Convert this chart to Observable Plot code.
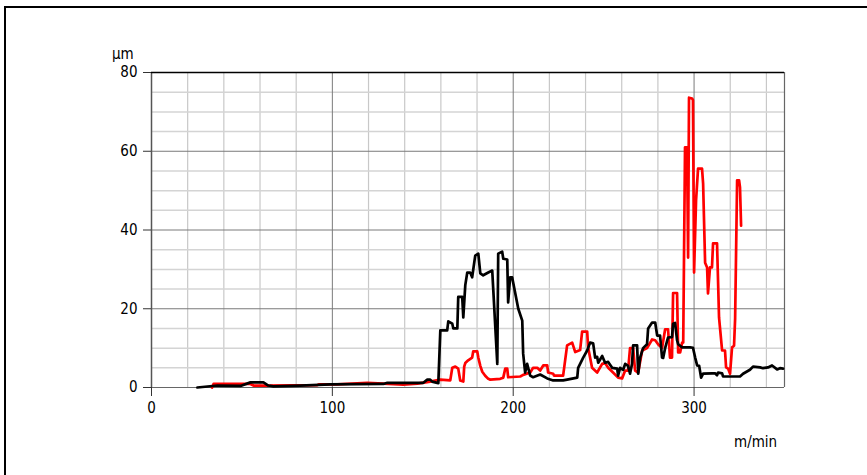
<!DOCTYPE html>
<html><head><meta charset="utf-8">
<script src="https://cdn.jsdelivr.net/npm/d3@7"></script>
<script src="https://cdn.jsdelivr.net/npm/@observablehq/plot@0.6"></script>
<style>
body{margin:0;background:#fff;}
#wrap{position:relative;width:867px;height:475px;overflow:hidden;background:#fff;}
#frame{position:absolute;left:4px;top:6px;width:900px;height:500px;border-top:2px solid #000;border-left:2px solid #000;}
#chart{position:absolute;left:0;top:0;}
.lbl{position:absolute;font-family:"Liberation Sans Narrow","Arial Narrow","DejaVu Sans Condensed",sans-serif;font-size:15px;color:#000;line-height:1;}
</style></head><body>
<div id="wrap"><div id="frame"></div><div id="chart"></div>
<div class="lbl" style="left:112px;top:47px">µm</div>
<div class="lbl" style="left:734px;top:435px">m/min</div></div>
<script>
const xTicks = [0, 100, 200, 300];
const yTicks = [0, 20, 40, 60, 80];
const xMinor = [20,40,60,80,120,140,160,180,220,240,260,280,320,340];
const xMajor = [100,200,300];
const yMinor = [5,10,15,25,30,35,45,50,55,65,70,75];
const yMajor = [20,40,60];

const redSeries = [[33.5,0],[34.3,0.9],[54.7,0.9],[56.4,0.5],[64.1,0.5],[91.7,0.6],[92.5,0.8],[102.8,0.8],[119.3,1.2],[128.2,1.0],[139.2,0.7],[147,1.0],[154.1,1.5],[159.7,2.0],[165.2,1.8],[166.3,5],[168,5.3],[169.6,4.8],[170.7,1.8],[172.4,1.5],[172.9,5.3],[173.5,6.2],[175.1,6.9],[177.3,7.6],[177.9,9.2],[180.1,9.2],[180.7,7.6],[181.8,5.5],[182.9,4.0],[184.5,3],[186.2,2.2],[187.3,2.0],[192.8,2.2],[194.5,2.5],[195.6,4.8],[196.7,4.8],[197.2,2.6],[203.9,2.8],[205.5,3.2],[209.4,3.8],[211,5],[213.3,5],[214.9,4.3],[216.6,5.6],[218.8,5.6],[219.3,3.8],[222.1,3.5],[222.6,3.0],[227.6,3.0],[229.8,10.7],[232.6,11.4],[234.3,9],[237,9.5],[238.1,14.2],[240.9,14.2],[241.4,10.2],[243.6,5],[246.4,3.8],[249.2,6],[250.8,6.2],[252.5,5],[255.2,3.8],[258,2.5],[260.2,2.3],[261.9,4.3],[263.5,4.3],[264.6,10],[266.3,10],[267.4,4.3],[269.1,3.8],[271.3,9.4],[274,10],[276.8,12.2],[278.5,12],[280.1,11],[282.3,10],[284,14.8],[285.6,14.8],[286.7,7.6],[287.8,7.6],[288.4,24],[290.6,24],[291.2,8.9],[292.3,8.9],[293.4,11.4],[294,11.4],[295,61],[296.1,61],[296.7,33],[297.2,73.6],[298.9,73.4],[299.4,73],[300,29.2],[301.1,47.5],[302.2,55.6],[304.4,55.6],[305,51.8],[306.1,31.7],[307.2,30.5],[307.7,23.9],[308.8,30.5],[309.9,30.5],[310.5,36.6],[312.7,36.6],[313.8,17.8],[315.5,9.4],[317.1,9.4],[317.7,5.1],[318.8,4.8],[319.9,3.5],[321,10.2],[322.1,10.6],[322.7,17.5],[323.8,52.6],[324.9,52.6],[325.4,50.8],[326,41.1]];

const blackSeries = [[25.4,0],[36.5,0.5],[49.2,0.4],[54.7,1.3],[61.9,1.3],[64.6,0.5],[67.4,0.3],[82.3,0.5],[98.9,0.8],[128.2,0.9],[130.4,1.2],[150.3,1.2],[152.5,2.0],[154.1,2.0],[155.2,1.5],[158.6,1.1],[159.7,14.5],[163.5,14.5],[164.1,16.8],[166.3,16.2],[166.9,15],[169.1,15],[169.6,23],[171.8,23],[172.4,17.8],[173.5,26],[174.6,29.2],[176.2,29.2],[177.3,28],[179,33.5],[180.7,34],[181.8,29],[183.4,28.5],[186.2,29.2],[188.4,29.7],[189,24.6],[191.2,6],[191.7,34],[193.9,34.5],[194.5,32.7],[196.7,32.5],[197.2,21.6],[198.3,28],[199.4,28],[202.8,20],[205,17],[205.5,8.6],[206.6,3.8],[207.7,6],[209.4,3],[211,2.6],[214.9,3.3],[218.8,2.3],[222.1,1.8],[227.6,1.8],[229.8,2.0],[235.4,2.5],[235.9,5],[238.7,7.6],[240.9,9.4],[242.5,11.4],[244.2,11.2],[245.3,7.6],[246.4,7.8],[247,6.3],[249.2,8],[250.8,6.3],[252.5,6.5],[254.7,5],[257.5,4.8],[258,3],[259.1,5],[260.8,4.5],[261.9,6],[263.5,5.5],[264.6,3.5],[265.7,6],[266.3,10.7],[268.5,10.7],[269.1,3.5],[270.2,7.6],[271.8,10],[274,11],[274.6,15],[276.8,16.5],[278.5,16.5],[279.6,13.2],[281.2,13.2],[282.3,7.6],[282.9,7.5],[284,10],[285.6,12.7],[287.8,12.8],[288.4,16.2],[289.5,16.4],[290.6,12],[291.2,11],[293.4,10.2],[297.8,10.2],[299.4,10.1],[300.6,7.6],[301.7,5.6],[302.8,5.5],[303.9,2.5],[305,3.5],[309.9,3.6],[311.6,3.6],[312.7,3.1],[313.3,3.8],[315.5,3.6],[316,2.8],[325.4,2.8],[327.1,3.5],[330.9,4.5],[332.6,5.3],[336.5,5.1],[338.1,4.9],[340.9,5.1],[343.1,5.6],[345.9,4.6],[347.5,4.9],[349.2,4.8]];

const font = '"Liberation Sans Narrow","Arial Narrow","DejaVu Sans Condensed",sans-serif';

const chart = Plot.plot({
  width: 867, height: 475,
  marginLeft: 151, marginRight: 83, marginTop: 72, marginBottom: 88,
  x: {domain: [0, 350]},
  y: {domain: [0, 80]},
  style: {fontFamily: font, fontSize: "15px", color: "#000", background: "transparent", overflow: "visible"},
  marks: [
    Plot.ruleX(xMinor, {stroke: "#c8c8c8", strokeWidth: 1.2}),
    Plot.ruleY(yMinor, {stroke: "#d4d4d4", strokeWidth: 1.5}),
    Plot.ruleX(xMajor, {stroke: "#7a7a7a", strokeWidth: 1}),
    Plot.ruleY(yMajor, {stroke: "#7a7a7a", strokeWidth: 1}),
    Plot.ruleY([0], {stroke: "#666", strokeWidth: 1.2}),
    Plot.ruleX([350], {stroke: "#666", strokeWidth: 1.2}),
    Plot.ruleX([0], {stroke: "#555", strokeWidth: 1.5}),
    Plot.ruleY([80], {stroke: "#000", strokeWidth: 1.5}),
    Plot.axisY({ticks: yTicks, tickSize: 8, tickPadding: 6, label: null, stroke: "#333"}),
    Plot.axisX({ticks: xTicks, tickSize: 9, tickPadding: 6, label: null, stroke: "#333"}),
    Plot.line(redSeries, {x: d => d[0], y: d => d[1], stroke: "#ff0000", strokeWidth: 2.7, strokeLinejoin: "round"}),
    Plot.line(blackSeries, {x: d => d[0], y: d => d[1], stroke: "#000", strokeWidth: 2.7, strokeLinejoin: "round"})
  ]
});
document.getElementById("chart").appendChild(chart);
</script>
</body></html>
